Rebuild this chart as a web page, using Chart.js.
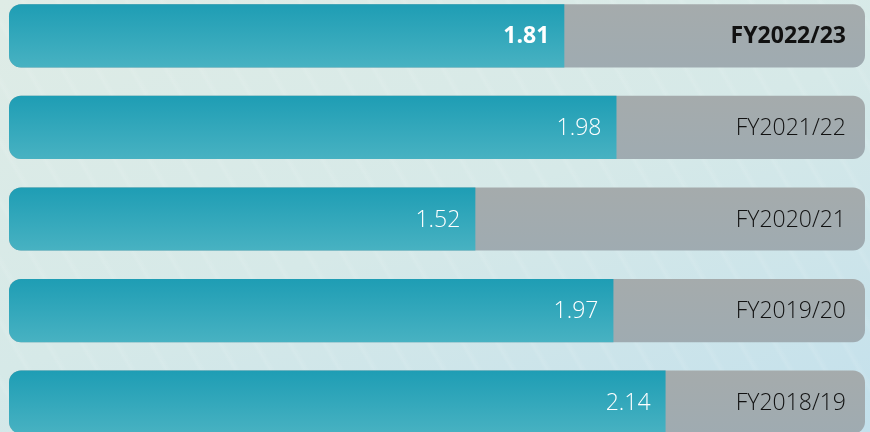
<!DOCTYPE html>
<html>
<head>
<meta charset="utf-8">
<script src="https://cdn.jsdelivr.net/npm/chart.js@4"></script>
<style>
  html, body {
    margin: 0;
    width: 870px;
    height: 432px;
    overflow: hidden;
  }
  body {
    position: relative;
    background:
      repeating-linear-gradient(60deg, rgba(255,255,255,0) 0px, rgba(255,255,255,0) 22px, rgba(255,255,255,0.09) 25px, rgba(255,255,255,0) 30px),
      linear-gradient(160deg, #dfece6 0%, #d6e9e8 50%, #c3e0ec 100%);
  }
  #wrap {
    position: absolute;
    left: 0;
    top: -10px;
    width: 870px;
    height: 458px;
  }
</style>
</head>
<body>
<div id="wrap"><canvas id="chartIntensity"></canvas></div>
<script>
const years = ["FY2022/23", "FY2021/22", "FY2020/21", "FY2019/20", "FY2018/19"];
const intensity = [1.81, 1.98, 1.52, 1.97, 2.14];
const axisMax = 2.79;

// grey rounded track behind each bar + the text labels
const trackAndLabels = {
  id: "trackAndLabels",
  beforeDatasetsDraw(chart) {
    const { ctx, chartArea } = chart;
    const meta = chart.getDatasetMeta(0);
    meta.data.forEach((bar) => {
      const top = bar.y - bar.height / 2;
      const g = ctx.createLinearGradient(0, top, 0, top + bar.height);
      g.addColorStop(0, "#a5abac");
      g.addColorStop(1, "#9fabb1");
      ctx.save();
      ctx.fillStyle = g;
      ctx.beginPath();
      ctx.roundRect(chartArea.left, top, chartArea.right - chartArea.left, bar.height, 12);
      ctx.fill();
      ctx.restore();
    });
  },
  afterDatasetsDraw(chart) {
    const { ctx, chartArea } = chart;
    const meta = chart.getDatasetMeta(0);
    meta.data.forEach((bar, i) => {
      const weight = i === 0 ? "700" : "300";
      ctx.save();
      ctx.font = weight + " 23px 'Open Sans', sans-serif";
      ctx.textBaseline = "middle";
      ctx.textAlign = "right";
      ctx.fillStyle = "#ffffff";
      ctx.fillText(intensity[i].toFixed(2), bar.x - 15, bar.y + 1);
      ctx.fillStyle = "#111111";
      ctx.fillText(years[i], chartArea.right - 19, bar.y + 1);
      ctx.restore();
    });
  },
};

new Chart(document.querySelector("#chartIntensity"), {
  type: "bar",
  data: {
    labels: years,
    datasets: [
      {
        label: "Intensity",
        data: intensity,
        backgroundColor: (c) => {
          const chart = c.chart;
          const y = chart.scales.y;
          if (!chart.chartArea || !y || c.dataIndex === undefined) return "#2aa5b9";
          const mid = y.getPixelForValue(c.dataIndex);
          const g = chart.ctx.createLinearGradient(0, mid - 32, 0, mid + 32);
          g.addColorStop(0, "#1e9db4");
          g.addColorStop(1, "#48b2c2");
          return g;
        },
        borderWidth: 0,
        borderSkipped: false,
        borderRadius: { topLeft: 12, bottomLeft: 12, topRight: 0, bottomRight: 0 },
        categoryPercentage: 0.69,
        barPercentage: 1.0,
      },
    ],
  },
  options: {
    indexAxis: "y",
    responsive: true,
    maintainAspectRatio: false,
    animation: false,
    layout: { padding: { left: 9, right: 5, top: 0, bottom: 0 } },
    scales: {
      x: { display: false, min: 0, max: axisMax },
      y: { display: false },
    },
    plugins: {
      legend: { display: false },
      tooltip: { enabled: false },
    },
  },
  plugins: [trackAndLabels],
});
</script>
</body>
</html>
